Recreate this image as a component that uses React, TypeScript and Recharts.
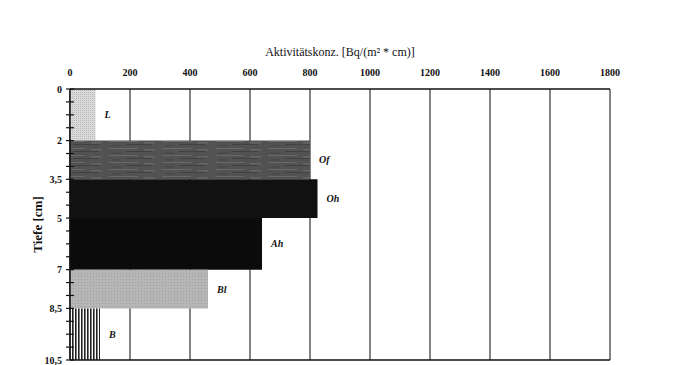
import React from "react";
import {
  ComposedChart,
  XAxis,
  YAxis,
  CartesianGrid,
  ReferenceArea,
  ReferenceLine,
} from "recharts";

const horizons = ["L", "Of", "Oh", "Ah", "Bl", "B"];
const depthTop = [0, 2, 3.5, 5, 7, 8.5];
const depthBottom = [2, 3.5, 5, 7, 8.5, 10.5];
const activity = [85, 800, 825, 640, 460, 100];
const fills = ["url(#patL)", "url(#patOf)", "#111111", "#0b0b0b", "url(#patBl)", "url(#patB)"];

const xTicks = [0, 200, 400, 600, 800, 1000, 1200, 1400, 1600, 1800];
const yMajorTicks = [0, 2, 3.5, 5, 7, 8.5, 10.5];
const yMinorTicks = [0.5, 1, 1.5, 2.5, 3, 4, 4.5, 5.5, 6, 6.5, 7.5, 8, 9, 9.5, 10];

const FONT = "'Liberation Serif', 'Times New Roman', serif";

const rows = horizons.map((h, i) => ({
  name: h,
  depth: (depthTop[i] + depthBottom[i]) / 2,
  value: activity[i],
}));

const XTick = (props: any) => {
  const { x, y, payload } = props;
  return (
    <text x={x} y={y - 13} textAnchor="middle" fontFamily={FONT} fontSize={10} fontWeight="bold" fill="#111">
      {payload.value}
    </text>
  );
};

const YTick = (props: any) => {
  const { x, y, payload } = props;
  const major = yMajorTicks.includes(payload.value);
  return (
    <g>
      <line x1={x - 4} x2={x + 4} y1={y} y2={y} stroke="#111" strokeWidth={1.2} />
      {major && (
        <text x={x - 8} y={y} dy="0.35em" textAnchor="end" fontFamily={FONT} fontSize={10} fontWeight="bold" fill="#111">
          {String(payload.value).replace(".", ",")}
        </text>
      )}
    </g>
  );
};

const HorizonLabel = (text: string) => (props: any) => {
  const { viewBox } = props;
  return (
    <text
      x={viewBox.x + viewBox.width + 9}
      y={viewBox.y + viewBox.height / 2}
      dy="0.35em"
      fontFamily={FONT}
      fontSize={10}
      fontWeight="bold"
      fontStyle="italic"
      fill="#111"
    >
      {text}
    </text>
  );
};

export default function App() {
  return (
    <div style={{ position: "absolute", left: 0, top: 0, background: "#fff" }}>
      <ComposedChart
        width={700}
        height={365}
        layout="vertical"
        data={rows}
        margin={{ top: 59, right: 90, bottom: 5, left: 10 }}
      >
        <defs>
          <pattern id="patL" width="2" height="2" patternUnits="userSpaceOnUse">
            <rect width="2" height="2" fill="#dadada" />
            <rect width="1" height="1" fill="#b8b8b8" />
          </pattern>
          <pattern id="patOf" width="53" height="7" patternUnits="userSpaceOnUse">
            <rect width="53" height="7" fill="#525252" />
            <rect x="3" y="1" width="29" height="0.8" fill="#6e6e6e" />
            <rect x="20" y="4" width="26" height="0.8" fill="#3c3c3c" />
            <rect x="38" y="2.5" width="11" height="0.8" fill="#757575" />
            <rect x="6" y="5.5" width="9" height="0.8" fill="#404040" />
          </pattern>
          <pattern id="patBl" width="3" height="3" patternUnits="userSpaceOnUse">
            <rect width="3" height="3" fill="#b6b6b6" />
            <rect width="1" height="1" fill="#a0a0a0" />
          </pattern>
          <pattern id="patB" width="3" height="3" patternUnits="userSpaceOnUse">
            <rect width="3" height="3" fill="#ffffff" />
            <rect width="1.6" height="3" fill="#222" />
          </pattern>
        </defs>
        <CartesianGrid horizontal={false} stroke="#333" strokeWidth={1.2} />
        <XAxis
          type="number"
          dataKey="value"
          orientation="top"
          domain={[0, 1800]}
          allowDataOverflow
          ticks={xTicks}
          height={30}
          tickSize={0}
          tickMargin={0}
          tickLine={false}
          axisLine={{ stroke: "#111", strokeWidth: 1.5 }}
          tick={<XTick />}
          interval={0}
          label={{
            value: "Aktivitätskonz. [Bq/(m² * cm)]",
            position: "top",
            offset: 3,
            fontFamily: FONT,
            fontSize: 12,
            fill: "#111",
          }}
        />
        <YAxis
          type="number"
          dataKey="depth"
          domain={[0, 10.5]}
          allowDataOverflow
          ticks={[...yMajorTicks, ...yMinorTicks].sort((a, b) => a - b)}
          width={60}
          tickSize={0}
          tickMargin={0}
          tickLine={false}
          interval={0}
          axisLine={{ stroke: "#111", strokeWidth: 1.5 }}
          tick={<YTick />}
          label={{
            content: (p: any) => (
              <text
                x={p.viewBox.x + 32}
                y={p.viewBox.y + p.viewBox.height / 2}
                transform={`rotate(-90 ${p.viewBox.x + 32} ${p.viewBox.y + p.viewBox.height / 2})`}
                textAnchor="middle"
                fontFamily={FONT}
                fontSize={13}
                fontWeight="bold"
                fill="#111"
              >
                Tiefe [cm]
              </text>
            ),
          }}
        />
        {horizons.map((h, i) => (
          <ReferenceArea
            key={h}
            x1={0}
            x2={activity[i]}
            y1={depthTop[i]}
            y2={depthBottom[i]}
            fill={fills[i]}
            fillOpacity={1}
            stroke="none"
            ifOverflow="visible"
            label={HorizonLabel(h)}
          />
        ))}
        <ReferenceLine y={10.5} stroke="#111" strokeWidth={1.5} ifOverflow="visible" />
      </ComposedChart>
    </div>
  );
}
